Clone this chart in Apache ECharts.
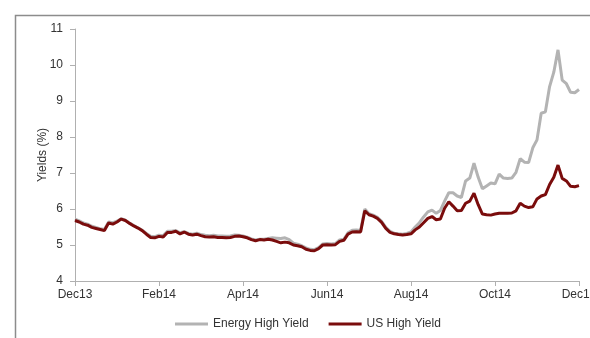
<!DOCTYPE html>
<html>
<head>
<meta charset="utf-8">
<script src="https://cdn.jsdelivr.net/npm/echarts@6/dist/echarts.min.js"></script>
<style>
  html, body { margin: 0; padding: 0; background: #fff; }
  #chart { width: 590px; height: 338px; }
</style>
</head>
<body>
<div id="chart"></div>
<script>
  // tick labels, one every 20 observations
  const tickLabels = ['Dec13', 'Feb14', 'Apr14', 'Jun14', 'Aug14', 'Oct14', 'Dec14'];
  const perTick = 20;

  const energyHY = [
    5.72, 5.67, 5.61, 5.58, 5.52, 5.49, 5.45, 5.43, 5.64, 5.62,
    5.66, 5.73, 5.69, 5.61, 5.54, 5.48, 5.41, 5.32, 5.24, 5.23,
    5.27, 5.26, 5.38, 5.38, 5.40, 5.34, 5.37, 5.32, 5.30, 5.33,
    5.29, 5.27, 5.26, 5.27, 5.25, 5.25, 5.24, 5.25, 5.28, 5.27,
    5.25, 5.22, 5.17, 5.14, 5.16, 5.16, 5.18, 5.20, 5.19, 5.18,
    5.20, 5.15, 5.05, 5.02, 4.98, 4.92, 4.88, 4.87, 4.93, 5.03,
    5.04, 5.03, 5.04, 5.14, 5.16, 5.34, 5.41, 5.42, 5.40, 6.00,
    5.87, 5.83, 5.77, 5.66, 5.49, 5.38, 5.33, 5.31, 5.30, 5.32,
    5.36, 5.50, 5.62, 5.78, 5.92, 5.97, 5.88, 5.96, 6.22, 6.45,
    6.45, 6.36, 6.32, 6.78, 6.86, 7.27, 6.88, 6.56, 6.64, 6.72,
    6.70, 6.97, 6.86, 6.85, 6.86, 7.02, 7.40, 7.30, 7.29, 7.70,
    7.92, 8.66, 8.70, 9.40, 9.80, 10.42, 9.58, 9.48, 9.24, 9.23,
    9.32
  ];

  const usHY = [
    5.68, 5.64, 5.58, 5.55, 5.49, 5.46, 5.43, 5.40, 5.61, 5.58,
    5.64, 5.72, 5.68, 5.60, 5.53, 5.47, 5.40, 5.30, 5.21, 5.20,
    5.24, 5.22, 5.35, 5.35, 5.38, 5.31, 5.36, 5.30, 5.28, 5.30,
    5.26, 5.23, 5.22, 5.23, 5.21, 5.21, 5.20, 5.21, 5.24, 5.25,
    5.23, 5.20, 5.15, 5.12, 5.15, 5.14, 5.16, 5.14, 5.10, 5.06,
    5.08, 5.06, 5.00, 4.98, 4.95, 4.88, 4.85, 4.84, 4.90, 5.00,
    5.01, 5.00, 5.01, 5.10, 5.13, 5.30, 5.36, 5.37, 5.36, 5.95,
    5.84, 5.80, 5.74, 5.63, 5.46, 5.35, 5.31, 5.29, 5.28, 5.29,
    5.31, 5.42, 5.50, 5.62, 5.74, 5.79, 5.70, 5.72, 6.02, 6.20,
    6.08, 5.95, 5.96, 6.16, 6.22, 6.44, 6.12, 5.86, 5.84, 5.83,
    5.86, 5.88, 5.88, 5.88, 5.89, 5.95, 6.16, 6.08, 6.04, 6.06,
    6.28, 6.36, 6.40, 6.68, 6.88, 7.22, 6.85, 6.78, 6.63, 6.62,
    6.65
  ];

  const categories = usHY.map((v, i) => String(i));

  const font = 'Liberation Sans, Arial, sans-serif';
  const chart = echarts.init(document.getElementById('chart'));
  chart.setOption({
    animation: false,
    textStyle: { fontFamily: font },
    graphic: [{
      type: 'rect',
      left: 13,
      top: 13,
      shape: { width: 620, height: 400 },
      style: { fill: 'none', stroke: '#8c8c8c', lineWidth: 1.5 },
      silent: true
    }],
    grid: { left: 75, right: 11, top: 29, bottom: 57, outerBoundsMode: 'none' },
    legend: {
      left: 175,
      bottom: 8,
      padding: 0,
      icon: 'rect',
      itemWidth: 33,
      itemHeight: 3,
      itemGap: 20,
      textStyle: { fontSize: 12, color: '#333', fontFamily: font },
      data: ['Energy High Yield', 'US High Yield']
    },
    xAxis: {
      type: 'category',
      boundaryGap: false,
      data: categories,
      axisLine: { lineStyle: { color: '#b0b0b0' } },
      axisTick: { interval: perTick - 1, length: 5, lineStyle: { color: '#b0b0b0' } },
      axisLabel: {
        interval: perTick - 1,
        margin: 8,
        fontSize: 12,
        color: '#333',
        hideOverlap: false,
        formatter: (v, i) => tickLabels[i / perTick] || ''
      },
      splitLine: { show: false }
    },
    yAxis: {
      type: 'value',
      min: 4,
      max: 11,
      interval: 1,
      name: 'Yields (%)',
      nameLocation: 'middle',
      nameGap: 26,
      nameMoveOverlap: false,
      nameTextStyle: { fontSize: 12, color: '#333' },
      axisLine: { show: true, lineStyle: { color: '#b0b0b0' } },
      axisTick: { show: true, length: 5, lineStyle: { color: '#b0b0b0' } },
      axisLabel: { margin: 12, fontSize: 12, color: '#333' },
      splitLine: { show: false }
    },
    series: [
      {
        name: 'Energy High Yield',
        type: 'line',
        data: energyHY,
        showSymbol: false,
        color: '#b3b3b3',
        lineStyle: { width: 3, color: '#b3b3b3' }
      },
      {
        name: 'US High Yield',
        type: 'line',
        data: usHY,
        showSymbol: false,
        color: '#7a0c0c',
        lineStyle: { width: 3, color: '#7a0c0c' }
      }
    ]
  });
</script>
</body>
</html>
